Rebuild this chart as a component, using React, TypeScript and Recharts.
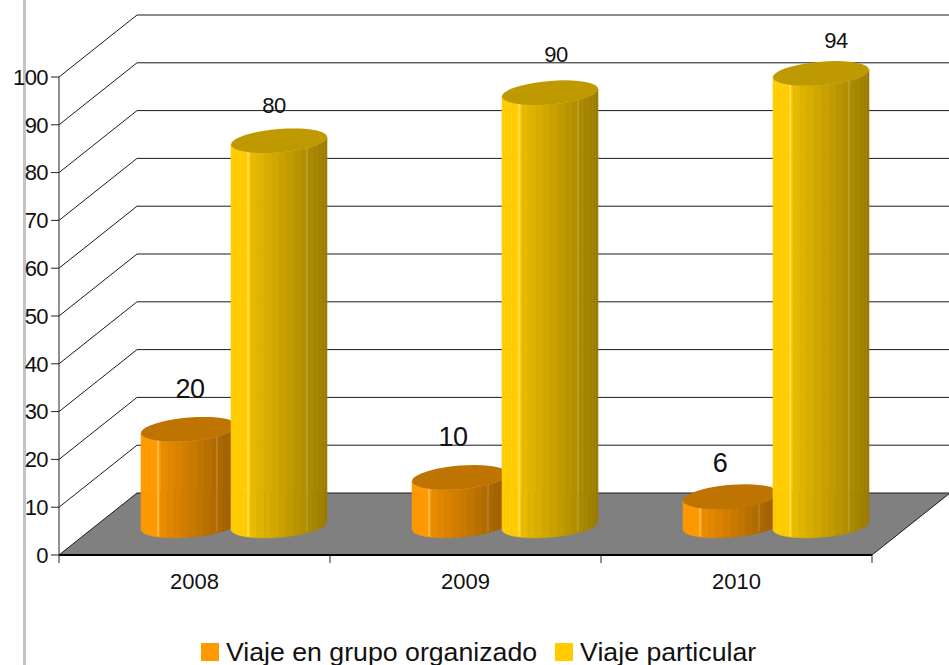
import React from 'react';
import { BarChart, Bar, XAxis, YAxis, CartesianGrid, Legend, LabelList } from 'recharts';

const years = ['2008', '2009', '2010'];
const grupo = [20, 10, 6];
const particular = [80, 90, 94];
const yTicks = [0, 10, 20, 30, 40, 50, 60, 70, 80, 90, 100];

const rows = years.map((year, i) => ({ year, grupo: grupo[i], particular: particular[i] }));

const FONT = '"Liberation Sans", Arial, sans-serif';
const ORANGE = '#ff9900';
const YELLOW = '#ffcc00';

// fake 3D: how far the back wall sits from the front plane
const DEPTH_X = 78;
const DEPTH_Y = -62;
// cylinders stand in the middle of the floor
const SHIFT_X = 39;
const SHIFT_Y = -29.5;

const shade = (hex: string, k: number) => {
  const n = parseInt(hex.slice(1), 16);
  const c = [(n >> 16) & 255, (n >> 8) & 255, n & 255].map((v) => Math.round(v * k));
  return `rgb(${c[0]},${c[1]},${c[2]})`;
};

const Cylinder = (props: any) => {
  const { x, y, width, height, color } = props;
  const cx = x + width / 2 + SHIFT_X;
  const rx = width / 2;
  const topY = y - height * 0.006 + SHIFT_Y;
  const baseY = y + height + SHIFT_Y;
  const tilt = 3.75;
  const ry = 11.8;
  const steps = 20;

  const pt = (t: number, cy: number) => [cx + rx * Math.cos(t), cy - tilt * Math.cos(t) + ry * Math.sin(t)];

  const strips = [];
  for (let i = 0; i < steps; i++) {
    const t0 = Math.PI - (Math.PI * i) / steps;
    const t1 = Math.PI - (Math.PI * (i + 1)) / steps;
    const a = pt(t0, topY);
    const b = pt(t1, topY);
    const c = pt(t1, baseY);
    const d = pt(t0, baseY);
    const frac = ((a[0] + b[0]) / 2 - (cx - rx)) / width;
    const k = frac < 0.18 ? 1 : 0.93 - (frac - 0.18) * 0.4;
    const fill = shade(color, k);
    strips.push(
      <path key={i} d={`M${a}L${b}L${c}L${d}Z`} fill={fill} stroke={fill} strokeWidth={0.6} />,
    );
  }

  const lid = [];
  for (let i = 0; i < steps * 2; i++) {
    lid.push(pt((Math.PI * i) / steps, topY).join(','));
  }

  return (
    <g>
      {strips}
      <line x1={cx - rx + 17} x2={cx - rx + 17} y1={topY + 10} y2={baseY + 10} stroke="#fff" strokeOpacity={0.6} strokeWidth={1} />
      <line x1={cx + rx - 20} x2={cx + rx - 20} y1={topY + 6} y2={baseY + 6} stroke="#fff" strokeOpacity={0.25} strokeWidth={1} />
      <polygon points={lid.join(' ')} fill={shade(color, 0.75)} />
    </g>
  );
};

// each grid line runs up the side wall and along the back wall
const WallLine = (props: any) => {
  const { x1, x2, y1 } = props;
  const bx = x1 + DEPTH_X;
  const by = y1 + DEPTH_Y;
  const ex = x2 + DEPTH_X;
  const isFloor = y1 >= 550;
  return (
    <g>
      {isFloor && <polygon points={`${x1},${y1} ${bx},${by} ${ex},${by} ${x2},${y1}`} fill="#808080" />}
      <path d={`M${x1},${y1}L${bx},${by}L${ex},${by}`} fill="none" stroke="#1a1a1a" strokeWidth={1} />
      {isFloor && <line x1={x2} y1={y1} x2={ex} y2={by} stroke="#1a1a1a" strokeWidth={1} />}
    </g>
  );
};

const YearTick = (props: any) => {
  const { x, y, payload, index, width } = props;
  const band = width / years.length;
  const left = x - band / 2;
  return (
    <g>
      <line x1={left} x2={left} y1={y - 8} y2={y} stroke="#222" />
      {index === years.length - 1 && <line x1={left + band} x2={left + band} y1={y - 8} y2={y} stroke="#222" />}
      <text x={x} y={y + 26} textAnchor="middle" fontFamily={FONT} fontSize={22} fill="#111">
        {payload.value}
      </text>
    </g>
  );
};

const valueLabel = (fontSize: number, dx: number[], dy: number[]) => (props: any) => {
  const { x, y, width, value, index } = props;
  return (
    <text x={x + width / 2 + dx[index]} y={y + dy[index]} textAnchor="middle" fontFamily={FONT} fontSize={fontSize} letterSpacing={-0.4} fill="#111">
      {value}
    </text>
  );
};

const LegendRow = (props: any) => (
  <div style={{ display: 'flex', justifyContent: 'flex-start', alignItems: 'center', paddingLeft: 201, height: 30, marginTop: 2, fontFamily: FONT, fontSize: 26.7, color: '#111' }}>
    {(props.payload || []).map((item: any) => (
      <span key={item.value} style={{ display: 'flex', alignItems: 'center', marginRight: 18 }}>
        <span style={{ width: 18, height: 18, background: item.color, marginRight: 7, display: 'inline-block' }} />
        {item.value}
      </span>
    ))}
  </div>
);

export default function App() {
  return (
    <div style={{ position: 'absolute', left: 0, top: 0, width: 949, height: 665, background: '#fff', overflow: 'hidden' }}>
      <div style={{ position: 'absolute', left: 23, top: 0, width: 3, height: 665, background: '#c4c4c4' }} />
      <BarChart
        width={949}
        height={665}
        data={rows}
        margin={{ top: 77, right: 77, bottom: 0, left: 0 }}
        barCategoryGap={42.5}
        barGap={-6}
        barSize={96}
      >
        <CartesianGrid vertical={false} horizontal={(p: any) => <WallLine key={p.key} {...p} />} />
        <XAxis
          dataKey="year"
          height={80}
          tickLine={false}
          axisLine={{ stroke: '#000', strokeWidth: 2 }}
          tick={(p: any) => <YearTick {...p} />}
          interval={0}
        />
        <YAxis
          width={59}
          domain={[0, 100]}
          ticks={yTicks}
          interval={0}
          tickSize={8}
          tickMargin={3}
          axisLine={{ stroke: '#222' }}
          tickLine={{ stroke: '#222' }}
          tick={{ fontFamily: FONT, fontSize: 22, fill: '#111', letterSpacing: -0.6 }}
        />
        <Legend
          verticalAlign="bottom"
          content={(p: any) => <LegendRow {...p} />}
          wrapperStyle={{ left: 0, width: 949, bottom: 0, height: 30 }}
        />
        <Bar
          dataKey="grupo"
          name="Viaje en grupo organizado"
          fill={ORANGE}
          isAnimationActive={false}
          shape={(p: any) => <Cylinder {...p} color={ORANGE} />}
        >
          <LabelList dataKey="grupo" content={valueLabel(27, [40, 32, 28], [-61, -61, -54])} />
        </Bar>
        <Bar
          dataKey="particular"
          name="Viaje particular"
          fill={YELLOW}
          isAnimationActive={false}
          shape={(p: any) => <Cylinder {...p} color={YELLOW} />}
        >
          <LabelList dataKey="particular" content={valueLabel(22, [34, 45, 54], [-60, -63, -58])} />
        </Bar>
      </BarChart>
    </div>
  );
}
